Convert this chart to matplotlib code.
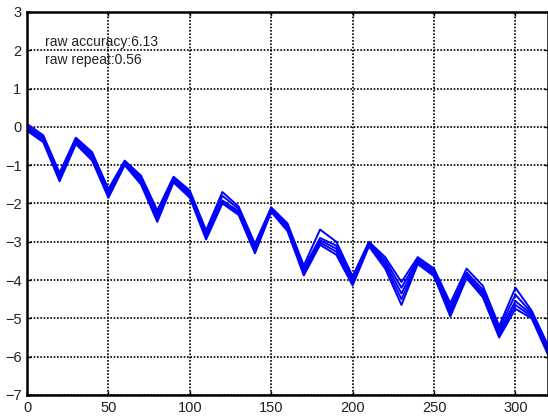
import matplotlib
matplotlib.use("Agg")
import matplotlib.pyplot as plt
import numpy as np

plt.rcParams['font.family'] = ['Liberation Sans', 'DejaVu Sans']

# sample positions
x = list(range(0, 330, 10))

# five repeated runs (top to bottom)
run1 = [0.08, -0.22, -1.20, -0.28, -0.66, -1.62, -0.88, -1.27, -2.18, -1.30, -1.66,
        -2.70, -1.70, -2.08, -3.05, -2.10, -2.52, -3.62, -2.68, -3.00, -3.90, -3.00,
        -3.40, -4.05, -3.40, -3.70, -4.60, -3.70, -4.15, -5.20, -4.20, -4.80, -5.70]
run2 = [0.02, -0.27, -1.25, -0.32, -0.72, -1.68, -0.91, -1.32, -2.25, -1.34, -1.70,
        -2.76, -1.80, -2.14, -3.12, -2.13, -2.57, -3.69, -2.90, -3.10, -3.96, -3.03,
        -3.48, -4.20, -3.45, -3.75, -4.70, -3.80, -4.25, -5.28, -4.38, -4.86, -5.76]
run3 = [-0.02, -0.30, -1.30, -0.36, -0.78, -1.74, -0.94, -1.38, -2.32, -1.37, -1.75,
        -2.82, -1.92, -2.20, -3.18, -2.16, -2.62, -3.75, -2.96, -3.18, -4.02, -3.06,
        -3.55, -4.35, -3.50, -3.80, -4.78, -3.86, -4.32, -5.35, -4.55, -4.90, -5.82]
run4 = [-0.06, -0.35, -1.35, -0.40, -0.82, -1.78, -0.97, -1.43, -2.40, -1.41, -1.80,
        -2.87, -1.96, -2.25, -3.24, -2.18, -2.67, -3.82, -3.02, -3.26, -4.08, -3.09,
        -3.62, -4.50, -3.54, -3.85, -4.86, -3.90, -4.38, -5.42, -4.65, -4.95, -5.88]
run5 = [-0.10, -0.40, -1.42, -0.45, -0.88, -1.85, -1.00, -1.50, -2.48, -1.45, -1.85,
        -2.94, -2.00, -2.30, -3.30, -2.22, -2.72, -3.88, -3.08, -3.34, -4.14, -3.12,
        -3.70, -4.65, -3.58, -3.90, -4.95, -3.95, -4.45, -5.50, -4.75, -5.00, -5.95]

runs = [run1, run2, run3, run4, run5]

raw_accuracy = 6.13
raw_repeat = 0.56

fig = plt.figure(figsize=(5.48, 4.19), dpi=100)
ax = fig.add_axes([27/548, 24/419, 521/548, 383/419])

for r in runs:
    ax.plot(x, r, color=(0, 0, 1), lw=1.4)

ax.set_xlim(0, 320)
ax.set_ylim(-7, 3)
ax.set_xticks(np.arange(0, 301, 50))
ax.set_yticks(np.arange(-7, 4, 1))
ax.grid(True, color='black', linestyle=(0, (1, 1)), lw=1.2)
ax.tick_params(direction='in', length=3, width=1, top=True, right=True,
               labelsize=10.5, pad=4, colors='black', labelcolor='#222222')
for s in ax.spines.values():
    s.set_linewidth(1.8)

ax.text(11, 2.22, 'raw accuracy:%.2f' % raw_accuracy, fontsize=10, color='#222222', va='center')
ax.text(11, 1.75, 'raw repeat:%.2f' % raw_repeat, fontsize=10, color='#222222', va='center')

fig.savefig('out.png', dpi=100)
